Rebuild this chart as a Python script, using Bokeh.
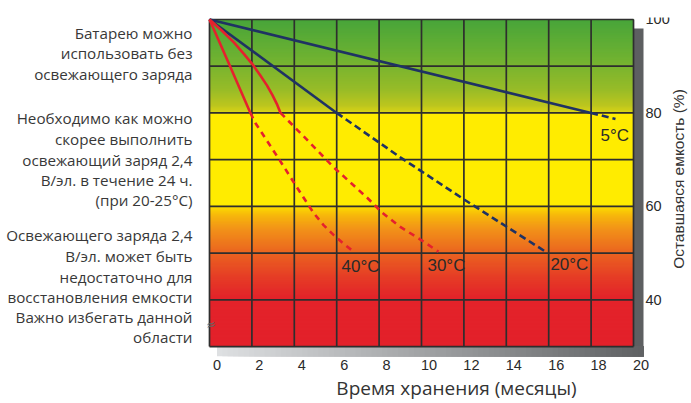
import numpy as np
from bokeh.plotting import figure
from bokeh.models import Range1d, LinearAxis, FixedTicker, Label
from bokeh.core.properties import value
from bokeh.embed import file_html
from bokeh.resources import INLINE

# ---------------- data ----------------
month_ticks = [0, 2, 4, 6, 8, 10, 12, 14, 16, 18, 20]
capacity_ticks = [40, 60, 80, 100]
grid_capacity = [30, 40, 50, 60, 70, 80, 90, 100]

t5_solid_x = [0, 18]
t5_solid_y = [100, 80]
t5_dash_x = [18, 19.15]
t5_dash_y = [80, 78.7]

t20_solid_x = [0, 6]
t20_solid_y = [100, 80]
t20_dash_x = [6, 9, 12, 15.85]
t20_dash_y = [80, 70.5, 61.5, 50.3]

t30_solid_x = [0, 0.59, 1.15, 1.61, 2.03, 2.4, 2.71, 2.97, 3.18, 3.35]
t30_solid_y = [100, 97.6, 95.1, 92.7, 90.4, 88.0, 85.9, 83.8, 81.9, 80]
t30_dash_x = [3.35, 4.29, 5.85, 7.45, 8.16, 9.0, 9.95, 10.8]
t30_dash_y = [80, 75.7, 68.4, 61.8, 58.6, 55.6, 52.9, 50.3]

t40_solid_x = [0, 0.97, 1.93]
t40_solid_y = [100, 90, 80]
t40_dash_x = [1.93, 2.17, 3.21, 4.29, 4.91, 5.38, 5.85, 6.27, 6.75]
t40_dash_y = [80, 77.8, 70.6, 62.9, 58.6, 56.0, 53.9, 52.2, 50.5]

temp_names = ["5°C", "20°C", "30°C", "40°C"]
temp_label_x = [18.44, 16.08, 10.28, 6.23]
temp_label_y = [75.2, 47.6, 47.4, 47.2]

zone_texts = [
    ["Батарею можно", "использовать без", "освежающего заряда"],
    ["Необходимо как можно", "скорее выполнить", "освежающий заряд 2,4",
     "В/эл. в течение 24 ч.", "(при 20-25°C)"],
    ["Освежающего заряда 2,4", "В/эл. может быть", "недостаточно для",
     "восстановления емкости", "Важно избегать данной", "области"],
]
x_title = "Время хранения (месяцы)"
y_title = "Оставшаяся емкость (%)"

# ---------------- geometry ----------------
W, H = 691, 403
FL, FT, FR, FB = 207, 17, 691, 357   # frame edges in page pixels
GX0, GY0 = 209, 19                   # pixel position of (0 months, 100 %)
PX_X = 21.2                          # px per month
PX_Y = 4.6857                        # px per %
x0 = (FL - GX0) / PX_X
x1 = (FR - GX0) / PX_X
y1 = 100 + (GY0 - FT) / PX_Y
y0 = 100 - (FB - GY0) / PX_Y
lab_shift = 7.5 / PX_X


def dx(ix):
    return round((ix - GX0) / PX_X, 4)


def dy(iy):
    return round(100 - (iy - GY0) / PX_Y, 4)


p = figure(width=W, height=H, output_backend="svg", toolbar_location=None,
           x_range=Range1d(x0, x1), y_range=Range1d(y0, y1),
           x_axis_location=None, y_axis_location=None,
           min_border_left=FL, min_border_right=0,
           min_border_top=FT, min_border_bottom=H - FB)
p.outline_line_color = None
p.xgrid.visible = False
p.ygrid.visible = False
p.background_fill_color = "white"
p.border_fill_color = "white"

p.extra_x_ranges = {"lab": Range1d(x0 - lab_shift, x1 - lab_shift)}

x_shadow_end = dx(643)

# ---------------- shadows ----------------
p.quad(left=[20], right=[x_shadow_end], bottom=[y0], top=[100 - 9 / PX_Y],
       fill_color="#5d5f61", line_color=None)
nb = 80
edges = np.linspace(lab_shift, x_shadow_end, nb + 1)
c0 = np.array([222, 224, 226])
c1 = np.array([96, 98, 100])
cols = []
for i in range(nb):
    t = i / (nb - 1)
    c = (c0 * (1 - t) + c1 * t).astype(int)
    cols.append("#%02x%02x%02x" % tuple(c))
p.quad(left=edges[:-1], right=[x_shadow_end] * nb, bottom=[y0] * nb, top=[30] * nb,
       fill_color=cols, line_color=None)

# ---------------- background gradient ----------------
stops = [
    (30.0, (227, 33, 42)), (40.5, (227, 36, 42)), (45, (230, 62, 38)),
    (50, (235, 100, 32)), (55, (242, 145, 25)), (58, (247, 182, 12)),
    (60, (253, 222, 0)), (60.4, (255, 236, 0)), (79.8, (255, 236, 0)),
    (80.2, (215, 212, 22)), (81.5, (190, 198, 30)), (85, (152, 188, 40)),
    (92, (110, 178, 50)), (100, (72, 165, 58)),
]
sv = np.array([s[0] for s in stops])
sc = np.array([s[1] for s in stops], dtype=float)
band_edges = np.arange(30, 100.001, 0.25)
bb, bc = [], []
for a, b in zip(band_edges[:-1], band_edges[1:]):
    m = (a + b) / 2
    c = [int(np.interp(m, sv, sc[:, k])) for k in range(3)]
    bb.append(a)
    bc.append("#%02x%02x%02x" % tuple(c))
p.quad(left=[0] * len(bb), right=[20] * len(bb), bottom=bb, top=[100] * len(bb),
       fill_color=bc, line_color=None)

# ---------------- grid ----------------
GRID = "#2e2e2e"
p.segment(x0=month_ticks, x1=month_ticks, y0=[30] * len(month_ticks),
          y1=[100] * len(month_ticks), line_color=GRID, line_width=1.7)
p.segment(x0=[0] * len(grid_capacity), x1=[20] * len(grid_capacity),
          y0=grid_capacity, y1=grid_capacity, line_color=GRID, line_width=1.7)

# ---------------- series ----------------
NAVY = "#1f3263"
RED = "#e5212d"
p.line(t5_solid_x, t5_solid_y, line_color=NAVY, line_width=2.6)
p.line(t5_dash_x, t5_dash_y, line_color=NAVY, line_width=2.6, line_dash="7 4")
p.line(t20_solid_x, t20_solid_y, line_color=NAVY, line_width=2.6)
p.line(t20_dash_x, t20_dash_y, line_color=NAVY, line_width=2.6, line_dash="7 4")
p.line(t30_solid_x, t30_solid_y, line_color=RED, line_width=2.6)
p.line(t30_dash_x, t30_dash_y, line_color=RED, line_width=2.6, line_dash="6 5")
p.line(t40_solid_x, t40_solid_y, line_color=RED, line_width=2.6)
p.line(t40_dash_x, t40_dash_y, line_color=RED, line_width=2.6, line_dash="6 5")

for name, lx, ly in zip(temp_names, temp_label_x, temp_label_y):
    p.add_layout(Label(x=lx, y=ly, text=name, text_align="left",
                       text_baseline="middle", text_font="Liberation Sans",
                       text_font_size="17px", text_color="#2a2a2a"))

p.add_layout(Label(x=dx(210), y=dy(325), text="≈",
                   text_align="center", text_baseline="middle", angle=0.3,
                   text_font="DejaVu Sans", text_font_size="13px",
                   text_color="#666666"))

# ---------------- right capacity scale & title ----------------
p.text(x=[dx(645)] * len(capacity_ticks), y=capacity_ticks,
       text=[str(v) for v in capacity_ticks], text_align="left",
       text_baseline="middle", text_font=value("Liberation Sans"),
       text_font_size=value("14.5px"), text_color="#2a2a2a")
p.add_layout(Label(x=dx(678), y=dy(179), text=y_title, angle=np.pi / 2,
                   text_align="center", text_baseline="middle",
                   text_font="Liberation Sans", text_font_size="15.5px",
                   text_color="#333333"))


def plain(axis):
    axis.axis_line_color = None
    axis.major_tick_line_color = None
    axis.minor_tick_line_color = None
    axis.major_tick_out = 0
    axis.major_tick_in = 0
    axis.minor_tick_out = 0
    axis.minor_tick_in = 0


# ---------------- bottom tick axis ----------------
xa = LinearAxis(x_range_name="lab", ticker=FixedTicker(ticks=month_ticks))
plain(xa)
xa.major_label_standoff = 3
xa.major_label_text_font = "Liberation Sans"
xa.major_label_text_font_size = "14.5px"
xa.major_label_text_color = "#2a2a2a"
p.add_layout(xa, "below")

# bottom title
xt_pos = round((456 - GX0 - 7.5) / PX_X, 4)
xt = LinearAxis(x_range_name="lab", ticker=FixedTicker(ticks=[xt_pos]),
                major_label_overrides={xt_pos: x_title})
plain(xt)
xt.major_label_standoff = 2
xt.major_label_text_font = "Open Sans"
xt.major_label_text_font_size = "19px"
xt.major_label_text_color = "#333333"
p.add_layout(xt, "below")

# ---------------- left zone descriptions ----------------
line_y = [[33, 53, 74], [118, 139, 160, 180, 200], [235, 256, 277, 297, 317, 337]]
zone_pos, zone_lbl = [], {}
for block, ys in zip(zone_texts, line_y):
    for txt, iy in zip(block, ys):
        v = dy(iy)
        zone_pos.append(v)
        zone_lbl[v] = txt
za = LinearAxis(ticker=FixedTicker(ticks=zone_pos), major_label_overrides=zone_lbl)
plain(za)
za.major_label_standoff = 15
za.major_label_text_font = "Open Sans"
za.major_label_text_font_size = "15.2px"
za.major_label_text_color = "#383838"
p.add_layout(za, "left")

open("out.html", "w").write(file_html(p, INLINE))
